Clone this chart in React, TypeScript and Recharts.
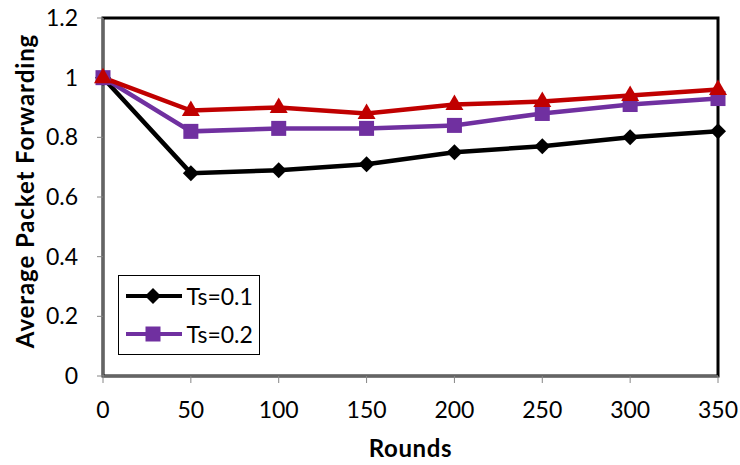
import React from 'react';
import { LineChart, Line, XAxis, YAxis, ReferenceArea } from 'recharts';

const rounds = [0, 50, 100, 150, 200, 250, 300, 350];
const ts01 = [1, 0.68, 0.69, 0.71, 0.75, 0.77, 0.8, 0.82];
const ts02 = [1, 0.82, 0.83, 0.83, 0.84, 0.88, 0.91, 0.93];
const ts03 = [1, 0.89, 0.9, 0.88, 0.91, 0.92, 0.94, 0.96];
const xTicks = [0, 50, 100, 150, 200, 250, 300, 350];
const yTicks = [0, 0.2, 0.4, 0.6, 0.8, 1, 1.2];

const data = rounds.map((r, i) => ({ r, a: ts01[i], b: ts02[i], c: ts03[i] }));

const FONT = 'Lato, "Open Sans", sans-serif';
const BLACK = '#000000';
const PURPLE = '#7030A0';
const RED = '#C00000';

const Diamond = (props: any) => {
  const { cx, cy, fill } = props;
  if (cx == null || cy == null) return null;
  const s = 8;
  return <path d={`M${cx},${cy - s}L${cx + s},${cy}L${cx},${cy + s}L${cx - s},${cy}Z`} fill={fill} />;
};
const Square = (props: any) => {
  const { cx, cy, fill } = props;
  if (cx == null || cy == null) return null;
  const s = 7.5;
  return <rect x={cx - s} y={cy - s} width={2 * s} height={2 * s} fill={fill} />;
};
const Triangle = (props: any) => {
  const { cx, cy, fill } = props;
  if (cx == null || cy == null) return null;
  return <path d={`M${cx},${cy - 10}L${cx + 9},${cy + 5.5}L${cx - 9},${cy + 5.5}Z`} fill={fill} />;
};

const legendItems = [
  { label: 'Ts=0.1', color: BLACK, Marker: Diamond },
  { label: 'Ts=0.2', color: PURPLE, Marker: Square },
];

const LegendBox = () => (
  <div
    style={{
      position: 'absolute',
      left: 118,
      top: 275,
      border: '1.5px solid #000',
      background: '#fff',
      width: 142,
      height: 80,
      boxSizing: 'border-box',
      padding: '1px 0 0 6.5px',
      fontFamily: FONT,
      fontSize: 23,
      lineHeight: 1,
    }}
  >
    {legendItems.map((it) => (
      <div key={it.label} style={{ display: 'flex', alignItems: 'center', height: 38 }}>
        <svg width={61} height={20} style={{ display: 'block' }}>
          <line x1={0} x2={56} y1={10} y2={10} stroke={it.color} strokeWidth={4} />
          <it.Marker cx={27} cy={10} fill={it.color} />
        </svg>
        <span style={{ color: '#000' }}>{it.label}</span>
      </div>
    ))}
  </div>
);

const YLabel = (props: any) => {
  const vb = props.viewBox || {};
  const x = vb.x + 24;
  const y = vb.y + vb.height / 2 - 6;
  return (
    <text
      x={x}
      y={y}
      transform={`rotate(-90, ${x}, ${y})`}
      textAnchor="middle"
      dominantBaseline="central"
      fontFamily={FONT}
      fontWeight="bold"
      fontSize={24}
      letterSpacing={0.9}
      fill="#000"
    >
      Average Packet Forwarding
    </text>
  );
};

export default function App() {
  return (
    <div style={{ position: 'absolute', left: 0, top: 0, width: 740, height: 465, background: '#fff' }}>
      <LineChart width={740} height={465} data={data} margin={{ top: 18, right: 22, left: 0, bottom: 0 }}>
        <XAxis
          dataKey="r"
          type="number"
          domain={[0, 350]}
          ticks={xTicks}
          axisLine={{ stroke: '#868686', strokeWidth: 1.5 }}
          tickLine={{ stroke: '#868686' }}
          tickSize={7}
          tickMargin={19}
          height={89}
          tick={{ fill: '#000', fontSize: 23, fontFamily: FONT }}
          label={{ value: 'Rounds', position: 'insideBottom', offset: 8, fill: '#000', fontSize: 24, fontWeight: 'bold', fontFamily: FONT, letterSpacing: 0.6 }}
        />
        <YAxis
          type="number"
          domain={[0, 1.2]}
          ticks={yTicks}
          width={103}
          axisLine={{ stroke: '#868686', strokeWidth: 1.5 }}
          tickLine={{ stroke: '#868686' }}
          tickSize={6}
          tickMargin={19}
          tick={{ fill: '#000', fontSize: 23, fontFamily: FONT }}
          label={<YLabel />}
        />
        <ReferenceArea x1={0} x2={350} y1={0} y2={1.2} fill="none" stroke="#000" strokeWidth={3} ifOverflow="visible" />
        <Line dataKey="a" stroke={BLACK} strokeWidth={4.5} dot={<Diamond fill={BLACK} />} isAnimationActive={false} />
        <Line dataKey="b" stroke={PURPLE} strokeWidth={4.5} dot={<Square fill={PURPLE} />} isAnimationActive={false} />
        <Line dataKey="c" stroke={RED} strokeWidth={4.5} dot={<Triangle fill={RED} />} isAnimationActive={false} />
      </LineChart>
      <LegendBox />
    </div>
  );
}
